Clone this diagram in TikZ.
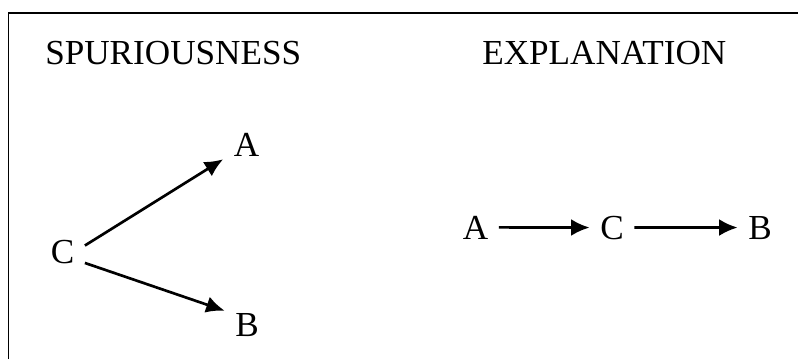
\documentclass[tikz,border=0pt]{standalone}
\usepackage{fontspec}
\setmainfont{Liberation Serif}
\usepackage{tikz}
\usetikzlibrary{
  arrows.meta,%
  positioning
}
\tikzset{>={Latex[length=4.6mm,width=4.2mm]}}
\tikzset{font=\fontsize{25}{30}\selectfont}
\tikzset{letter/.style={inner xsep=0.26cm, inner ysep=0.05cm, anchor=base},
  title/.style={inner sep=0pt, anchor=base west},
  link/.style={->, line width=1.9pt}}

\begin{document}
\begin{tikzpicture}
        \useasboundingbox (0,0) rectangle (19.95,8.975);
        \draw[line width=1.4pt] (0.2125,0) -- (0.2125,8.65) -- (19.95,8.65);
        \node[title] (spur) at (1.125,7.35) {SPURIOUSNESS};
        \node[title] (expl) at (12.05,7.35) {EXPLANATION};
        % spuriousness: C causes both A and B
        \node[letter] (sC) at (1.5625,2.4) {C};
        \node[letter] (sA) at (6.1625,5.05) {A};
        \node[letter] (sB) at (6.175,0.575) {B};
        \draw[link] (sC.15) -- (sA.south west);
        \draw[link] (sC.-27) -- (sB.north west);
        % explanation: A -> C -> B
        \node[letter] (eA) at (11.89,3.0) {A};
        \node[letter] (eC) at (15.3,3.0) {C};
        \node[letter] (eB) at (19.0,3.0) {B};
        \draw[link] (eA.east) -- (eC.west);
        \draw[link] (eC.east) -- (eB.west);
      \end{tikzpicture}
\end{document}
